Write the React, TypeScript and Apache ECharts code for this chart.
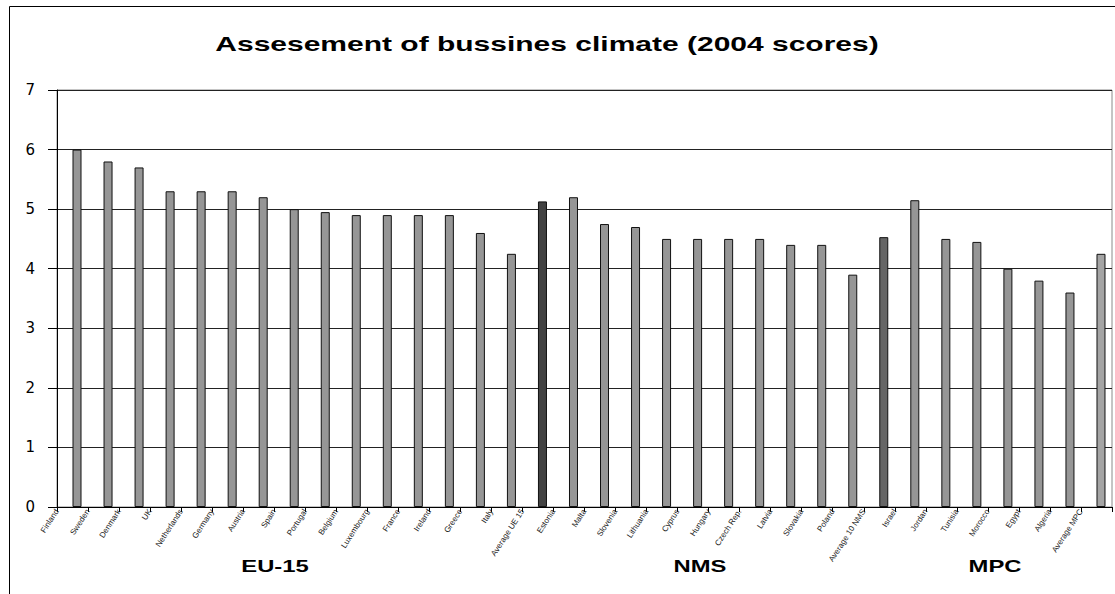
import React, { useEffect, useRef } from "react";
import * as echarts from "echarts";

const categories = [
  "Finland", "Sweden", "Denmark", "UK", "Netherlands", "Germany", "Austria", "Spain",
  "Portugal", "Belgium", "Luxembourg", "France", "Ireland", "Greece", "Italy", "Average UE 15",
  "Estonia", "Malta", "Slovenia", "Lithuania", "Cyprus", "Hungary", "Czech Rep.", "Latvia",
  "Slovakia", "Poland", "Average 10 NMS", "Israel", "Jordan", "Tunisia", "Morocco", "Egypt",
  "Algeria", "Average MPC",
];

const scores = [
  6.0, 5.8, 5.7, 5.3, 5.3, 5.3, 5.2, 5.0,
  4.95, 4.9, 4.9, 4.9, 4.9, 4.6, 4.25, 5.13,
  5.2, 4.75, 4.7, 4.5, 4.5, 4.5, 4.5, 4.4,
  4.4, 3.9, 4.53, 5.15, 4.5, 4.45, 4.0, 3.8,
  3.6, 4.25,
];

const barColors: Record<string, string> = {
  "Average UE 15": "#424242",
  "Average 10 NMS": "#666666",
  "Average MPC": "#a4a4a4",
};

const groupLabels = ["EU-15", "NMS", "MPC"];
const yTicks = [0, 1, 2, 3, 4, 5, 6, 7];

export default function App() {
  const ref = useRef<HTMLDivElement>(null);
  useEffect(() => {
    if (!ref.current) return;
    const chart = echarts.init(ref.current, null, { renderer: "svg" });
    const groupPos = [275, 700, 995];
    chart.setOption({
      animation: false,
      backgroundColor: "#ffffff",
      grid: {
        left: 57,
        right: 3,
        top: 90,
        bottom: 87,
        show: true,
        borderColor: "#8a8a8a",
        borderWidth: 1,
        backgroundColor: "transparent",
      },
      xAxis: [
        {
          type: "category",
          data: categories,
          boundaryGap: true,
          axisLine: { show: true, lineStyle: { color: "#000", width: 1 } },
          axisTick: { show: true, interval: 0, length: 5, lineStyle: { color: "#000" } },
          axisLabel: { show: false },
          splitLine: { show: false },
        },
        {
          type: "category",
          position: "bottom",
          data: [...categories, ""],
          boundaryGap: false,
          axisLine: { show: false },
          axisTick: { show: false },
          axisLabel: {
            interval: 0,
            rotate: 57,
            margin: 3,
            fontSize: 8,
            color: "#222",
            fontFamily: "Arial, sans-serif",
          },
          splitLine: { show: false },
        },
      ],
      yAxis: {
        type: "value",
        min: yTicks[0],
        max: yTicks[yTicks.length - 1],
        interval: 1,
        axisLine: { show: true, lineStyle: { color: "#000", width: 1 } },
        axisTick: { show: true, inside: false, length: 9, lineStyle: { color: "#000" } },
        axisLabel: {
          margin: 22,
          fontSize: 15,
          color: "#000",
          fontFamily: "DejaVu Sans, Arial, sans-serif",
        },
        splitLine: { show: true, lineStyle: { color: "#222", width: 1 } },
      },
      series: [
        {
          name: "spacer",
          type: "bar",
          xAxisIndex: 0,
          barWidth: 9,
          barGap: "0%",
          data: categories.map(() => "-"),
          silent: true,
        },
        {
          name: "Score",
          type: "bar",
          xAxisIndex: 0,
          barWidth: 9,
          barGap: "0%",
          data: scores.map((v, i) => ({
            value: v,
            itemStyle: {
              color: barColors[categories[i]] || "#969696",
              borderColor: "#111",
              borderWidth: 1,
            },
          })),
        },
      ],
      graphic: [
        {
          type: "rect",
          left: 7,
          top: 4,
          shape: { width: 1120, height: 600 },
          style: { fill: "none", stroke: "#000", lineWidth: 1 },
          silent: true,
        },
        {
          type: "text",
          x: 547,
          y: 44,
          scaleX: 1.5,
          style: {
            text: "Assesement of bussines climate (2004 scores)",
            fontFamily: "Liberation Sans, Arial, sans-serif",
            fontWeight: "bold",
            fontSize: 20,
            fill: "#000",
            textAlign: "center",
            textVerticalAlign: "middle",
          },
        },
        ...groupLabels.map((g, i) => ({
          type: "text",
          x: groupPos[i],
          y: 566,
          scaleX: 1.4,
          style: {
            text: g,
            fontFamily: "Liberation Sans, Arial, sans-serif",
            fontWeight: "bold",
            fontSize: 17,
            fill: "#000",
            textAlign: "center",
            textVerticalAlign: "middle",
          },
        })),
      ],
    });
    return () => chart.dispose();
  }, []);
  return (
    <div
      ref={ref}
      style={{ position: "fixed", left: 0, top: 0, width: 1115, height: 594, background: "#fff" }}
    />
  );
}
